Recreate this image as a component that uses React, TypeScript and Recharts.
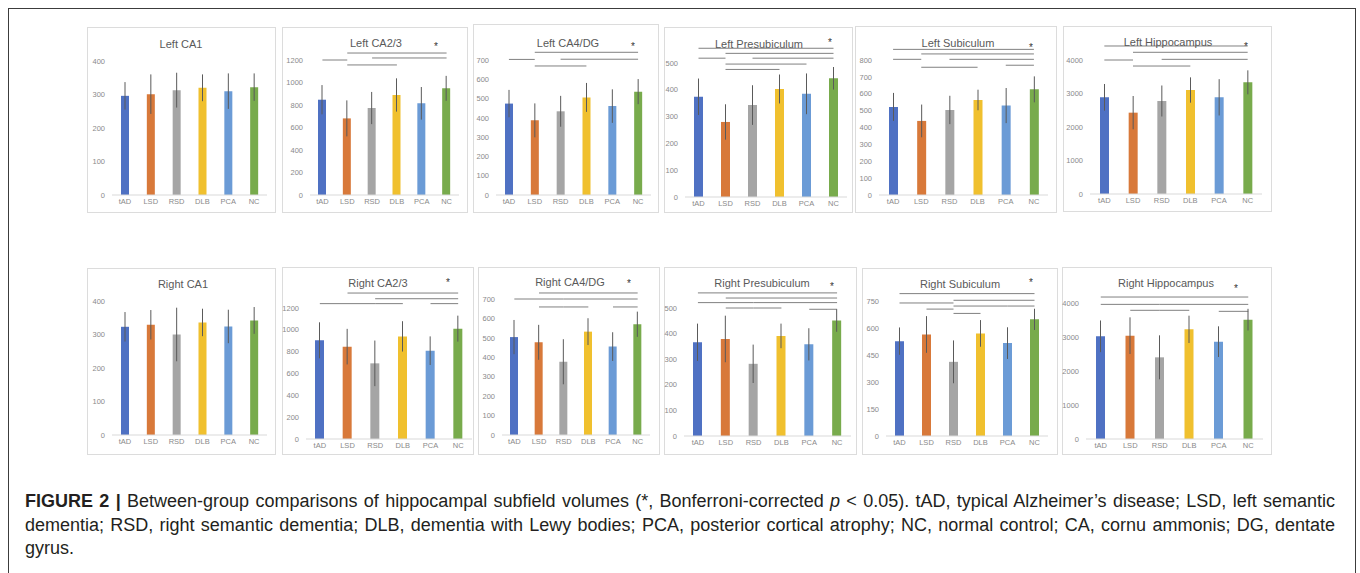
import { BarChart, Bar, Cell, XAxis, YAxis, ErrorBar, ReferenceLine } from 'recharts';

const groups = ['tAD', 'LSD', 'RSD', 'DLB', 'PCA', 'NC'];
const groupColors = ['#4f71c3', '#d8793a', '#a5a5a5', '#f0c02e', '#6b9bd6', '#78ab4c'];

// y ticks
const ticksCA1 = [0, 100, 200, 300, 400];
const ticksCA23 = [0, 200, 400, 600, 800, 1000, 1200];
const ticksCA4 = [0, 100, 200, 300, 400, 500, 600, 700];
const ticksPre = [0, 100, 200, 300, 400, 500];
const ticksLeftSub = [0, 100, 200, 300, 400, 500, 600, 700, 800];
const ticksRightSub = [0, 150, 300, 450, 600, 750];
const ticksHip = [0, 1000, 2000, 3000, 4000];

// mean and sd per group
const leftCA1Mean = [296, 301, 313, 320, 310, 322];
const leftCA1Sd = [41, 59, 52, 40, 53, 41];
const leftCA23Mean = [847, 681, 773, 889, 815, 948];
const leftCA23Sd = [130, 160, 143, 148, 145, 111];
const leftCA4Mean = [474, 387, 434, 506, 461, 536];
const leftCA4Sd = [71, 88, 80, 75, 87, 65];
const leftPreMean = [374, 280, 343, 403, 385, 443];
const leftPreSd = [68, 66, 74, 54, 76, 42];
const leftSubMean = [522, 439, 504, 563, 530, 626];
const leftSubSd = [83, 97, 84, 61, 104, 77];
const leftHipMean = [2886, 2428, 2776, 3104, 2886, 3333];
const leftHipSd = [398, 497, 463, 378, 542, 358];

const rightCA1Mean = [323, 329, 300, 336, 324, 342];
const rightCA1Sd = [44, 44, 80, 41, 50, 40];
const rightCA23Mean = [904, 846, 693, 940, 809, 1011];
const rightCA23Sd = [165, 163, 209, 139, 131, 119];
const rightCA4Mean = [504, 477, 377, 532, 455, 570];
const rightCA4Sd = [88, 90, 116, 69, 74, 65];
const rightPreMean = [366, 379, 282, 391, 358, 451];
const rightPreSd = [73, 91, 75, 48, 63, 44];
const rightSubMean = [527, 564, 412, 570, 516, 648];
const rightSubSd = [76, 102, 119, 74, 88, 59];
const rightHipMean = [3020, 3039, 2402, 3225, 2863, 3510];
const rightHipSd = [466, 539, 647, 402, 451, 319];

// significant pairs: [from, to, height]
type Sig = [string, string, number];
const leftCA23Sig: Sig[] = [['LSD', 'NC', 1262], ['RSD', 'NC', 1218], ['tAD', 'LSD', 1200], ['LSD', 'DLB', 1156]];
const leftCA4Sig: Sig[] = [['LSD', 'NC', 740], ['tAD', 'LSD', 703], ['RSD', 'NC', 704], ['LSD', 'DLB', 669]];
const leftPreSig: Sig[] = [
  ['tAD', 'NC', 555], ['LSD', 'NC', 536], ['tAD', 'LSD', 518], ['RSD', 'NC', 518],
  ['LSD', 'PCA', 496], ['LSD', 'DLB', 476],
];
const leftSubSig: Sig[] = [
  ['tAD', 'NC', 863], ['LSD', 'NC', 836], ['tAD', 'LSD', 804], ['RSD', 'NC', 804],
  ['PCA', 'NC', 769], ['LSD', 'DLB', 757],
];
const leftHipSig: Sig[] = [['tAD', 'NC', 4418], ['LSD', 'NC', 4230], ['RSD', 'NC', 4020], ['tAD', 'LSD', 4000], ['LSD', 'DLB', 3820]];
const rightCA23Sig: Sig[] = [
  ['LSD', 'NC', 1337], ['RSD', 'NC', 1285], ['tAD', 'RSD', 1240], ['RSD', 'DLB', 1240], ['PCA', 'NC', 1240],
];
const rightCA4Sig: Sig[] = [
  ['LSD', 'NC', 731], ['tAD', 'RSD', 700], ['RSD', 'NC', 700],
  ['LSD', 'RSD', 659], ['RSD', 'DLB', 659], ['PCA', 'NC', 659],
];
const rightPreSig: Sig[] = [
  ['tAD', 'NC', 559], ['LSD', 'NC', 539], ['tAD', 'RSD', 521], ['RSD', 'NC', 521],
  ['LSD', 'RSD', 500], ['RSD', 'DLB', 500], ['PCA', 'NC', 495],
];
const rightSubSig: Sig[] = [
  ['tAD', 'NC', 791], ['RSD', 'NC', 754], ['tAD', 'RSD', 739], ['RSD', 'PCA', 722],
  ['PCA', 'NC', 722], ['LSD', 'RSD', 705], ['RSD', 'DLB', 681],
];
const rightHipSig: Sig[] = [
  ['tAD', 'NC', 4176], ['tAD', 'RSD', 3960], ['RSD', 'NC', 3960],
  ['LSD', 'RSD', 3785], ['RSD', 'DLB', 3785], ['PCA', 'NC', 3755],
];

interface Box {
  x: number; y: number; w: number; h: number;
  pl: number; pr: number; pt: number; pb: number;
  tx: number; ty: number; sx?: number; sy?: number; bar: number;
}

interface PanelProps {
  title: string;
  box: Box;
  mean: number[];
  sd: number[];
  ticks: number[];
  sig?: Sig[];
}

const YW = 20;
const XH = 14;
const tickStyle = { fontSize: 7.5, fill: '#8a8a8a', fontFamily: 'Liberation Sans, Arial, sans-serif' };

function Panel({ title, box, mean, sd, ticks, sig = [] }: PanelProps) {
  const data = groups.map((g, i) => ({ g, v: mean[i], e: sd[i] }));
  const margin = {
    left: box.pl - box.x - YW,
    right: box.x + box.w - box.pr,
    top: box.pt - box.y,
    bottom: box.y + box.h - box.pb - XH,
  };
  return (
    <div
      style={{
        position: 'absolute', left: box.x, top: box.y, width: box.w, height: box.h,
        border: '1px solid #dcdcdc', boxSizing: 'border-box', background: '#fff',
      }}
    >
      <div style={{ position: 'absolute', left: -1, top: -1 }}>
        <BarChart width={box.w} height={box.h} data={data} margin={margin}>
          <XAxis
            dataKey="g"
            interval={0}
            tick={tickStyle}
            tickLine={false}
            tickSize={2}
            tickMargin={2}
            height={XH}
            axisLine={{ stroke: '#d9d9d9' }}
          />
          <YAxis
            domain={[0, ticks[ticks.length - 1]]}
            ticks={ticks}
            interval={0}
            width={YW}
            tick={tickStyle}
            tickLine={false}
            tickSize={4}
            tickMargin={3}
            axisLine={false}
          />
          {sig.map(([a, b, y], i) => (
            <ReferenceLine
              key={i}
              segment={[{ x: a, y }, { x: b, y }]}
              stroke="#808080"
              strokeWidth={1}
              ifOverflow="visible"
            />
          ))}
          <Bar dataKey="v" barSize={box.bar} isAnimationActive={false}>
            {data.map((d, i) => (
              <Cell key={d.g} fill={groupColors[i]} />
            ))}
            <ErrorBar dataKey="e" width={0} stroke="#5a5a5a" strokeWidth={1} direction="y" />
          </Bar>
        </BarChart>
      </div>
      <div
        style={{
          position: 'absolute', left: box.tx - box.x - 100, top: box.ty - box.y - 9, width: 200,
          textAlign: 'center', fontSize: 11, color: '#595959', lineHeight: '18px',
          fontFamily: 'Liberation Sans, Arial, sans-serif', whiteSpace: 'nowrap',
        }}
      >
        {title}
      </div>
      {box.sx !== undefined && (
        <div
          style={{
            position: 'absolute', left: box.sx - box.x - 5, top: (box.sy ?? 0) - box.y - 4, width: 10,
            textAlign: 'center', fontSize: 10, color: '#333333', lineHeight: '10px',
            fontFamily: 'Liberation Sans, Arial, sans-serif',
          }}
        >
          *
        </div>
      )}
    </div>
  );
}

const layout: Record<string, Box> = {
  lCA1: { x: 87, y: 27, w: 189, h: 186, pl: 112, pr: 267, pt: 61, pb: 195, tx: 180, ty: 43, bar: 8 },
  lCA23: { x: 282, y: 27, w: 186, h: 186, pl: 310, pr: 459, pt: 60, pb: 195, tx: 375, ty: 42, sx: 435, sy: 45, bar: 8 },
  lCA4: { x: 473, y: 24, w: 186, h: 189, pl: 496, pr: 651, pt: 60, pb: 195, tx: 567, ty: 42, sx: 632, sy: 45, bar: 8 },
  lPre: { x: 664, y: 27, w: 189, h: 186, pl: 685, pr: 847, pt: 63, pb: 197, tx: 758, ty: 43, sx: 829, sy: 41, bar: 9 },
  lSub: { x: 855, y: 26, w: 202, h: 187, pl: 879, pr: 1048, pt: 60, pb: 195, tx: 957, ty: 42, sx: 1030, sy: 46, bar: 9 },
  lHip: { x: 1063, y: 26, w: 209, h: 186, pl: 1090, pr: 1262, pt: 60, pb: 194, tx: 1167, ty: 41, sx: 1245, sy: 45, bar: 9 },
  rCA1: { x: 87, y: 268, w: 189, h: 187, pl: 112, pr: 267, pt: 301, pb: 435, tx: 182, ty: 283, bar: 8 },
  rCA23: { x: 282, y: 267, w: 192, h: 188, pl: 306, pr: 472, pt: 308, pb: 439, tx: 377, ty: 282, sx: 447, sy: 281, bar: 9 },
  rCA4: { x: 478, y: 267, w: 182, h: 188, pl: 502, pr: 650, pt: 299, pb: 435, tx: 569, ty: 281, sx: 628, sy: 282, bar: 8 },
  rPre: { x: 664, y: 267, w: 193, h: 188, pl: 684, pr: 851, pt: 308, pb: 436, tx: 761, ty: 282, sx: 831, sy: 285, bar: 9 },
  rSub: { x: 862, y: 268, w: 196, h: 187, pl: 886, pr: 1048, pt: 301, pb: 436, tx: 959, ty: 283, sx: 1030, sy: 281, bar: 9 },
  rHip: { x: 1062, y: 267, w: 210, h: 188, pl: 1086, pr: 1263, pt: 303, pb: 439, tx: 1165, ty: 282, sx: 1235, sy: 287, bar: 9 },
};

const capStyle = {
  position: 'absolute' as const,
  left: 25,
  width: 1310,
  fontSize: 18,
  lineHeight: '23.5px',
  color: '#231f20',
  fontFamily: 'Liberation Sans, Arial, sans-serif',
  whiteSpace: 'nowrap' as const,
};

export default function App() {
  return (
    <div style={{ position: 'absolute', left: 0, top: 0, width: 1360, height: 573, background: '#fff', overflow: 'hidden' }}>
      <style>{'svg.recharts-surface { overflow: visible; }'}</style>
      <div
        style={{
          position: 'absolute', left: 8, top: 8, width: 1348, height: 620,
          border: '1.5px solid #3c3c3c', boxSizing: 'border-box',
        }}
      />
      <Panel title="Left CA1" box={layout.lCA1} mean={leftCA1Mean} sd={leftCA1Sd} ticks={ticksCA1} />
      <Panel title="Left CA2/3" box={layout.lCA23} mean={leftCA23Mean} sd={leftCA23Sd} ticks={ticksCA23} sig={leftCA23Sig} />
      <Panel title="Left CA4/DG" box={layout.lCA4} mean={leftCA4Mean} sd={leftCA4Sd} ticks={ticksCA4} sig={leftCA4Sig} />
      <Panel title="Left Presubiculum" box={layout.lPre} mean={leftPreMean} sd={leftPreSd} ticks={ticksPre} sig={leftPreSig} />
      <Panel title="Left Subiculum" box={layout.lSub} mean={leftSubMean} sd={leftSubSd} ticks={ticksLeftSub} sig={leftSubSig} />
      <Panel title="Left Hippocampus" box={layout.lHip} mean={leftHipMean} sd={leftHipSd} ticks={ticksHip} sig={leftHipSig} />
      <Panel title="Right CA1" box={layout.rCA1} mean={rightCA1Mean} sd={rightCA1Sd} ticks={ticksCA1} />
      <Panel title="Right CA2/3" box={layout.rCA23} mean={rightCA23Mean} sd={rightCA23Sd} ticks={ticksCA23} sig={rightCA23Sig} />
      <Panel title="Right CA4/DG" box={layout.rCA4} mean={rightCA4Mean} sd={rightCA4Sd} ticks={ticksCA4} sig={rightCA4Sig} />
      <Panel title="Right Presubiculum" box={layout.rPre} mean={rightPreMean} sd={rightPreSd} ticks={ticksPre} sig={rightPreSig} />
      <Panel title="Right Subiculum" box={layout.rSub} mean={rightSubMean} sd={rightSubSd} ticks={ticksRightSub} sig={rightSubSig} />
      <Panel title="Right Hippocampus" box={layout.rHip} mean={rightHipMean} sd={rightHipSd} ticks={ticksHip} sig={rightHipSig} />

      <div style={{ ...capStyle, top: 490, textAlign: 'justify', textAlignLast: 'justify' }}>
        <b>FIGURE 2 |</b> Between-group comparisons of hippocampal subfield volumes (*, Bonferroni-corrected <i>p</i> &lt; 0.05). tAD, typical Alzheimer’s disease; LSD, left semantic
      </div>
      <div style={{ ...capStyle, top: 514, textAlign: 'justify', textAlignLast: 'justify' }}>
        dementia; RSD, right semantic dementia; DLB, dementia with Lewy bodies; PCA, posterior cortical atrophy; NC, normal control; CA, cornu ammonis; DG, dentate
      </div>
      <div style={{ ...capStyle, top: 537 }}>gyrus.</div>
    </div>
  );
}
